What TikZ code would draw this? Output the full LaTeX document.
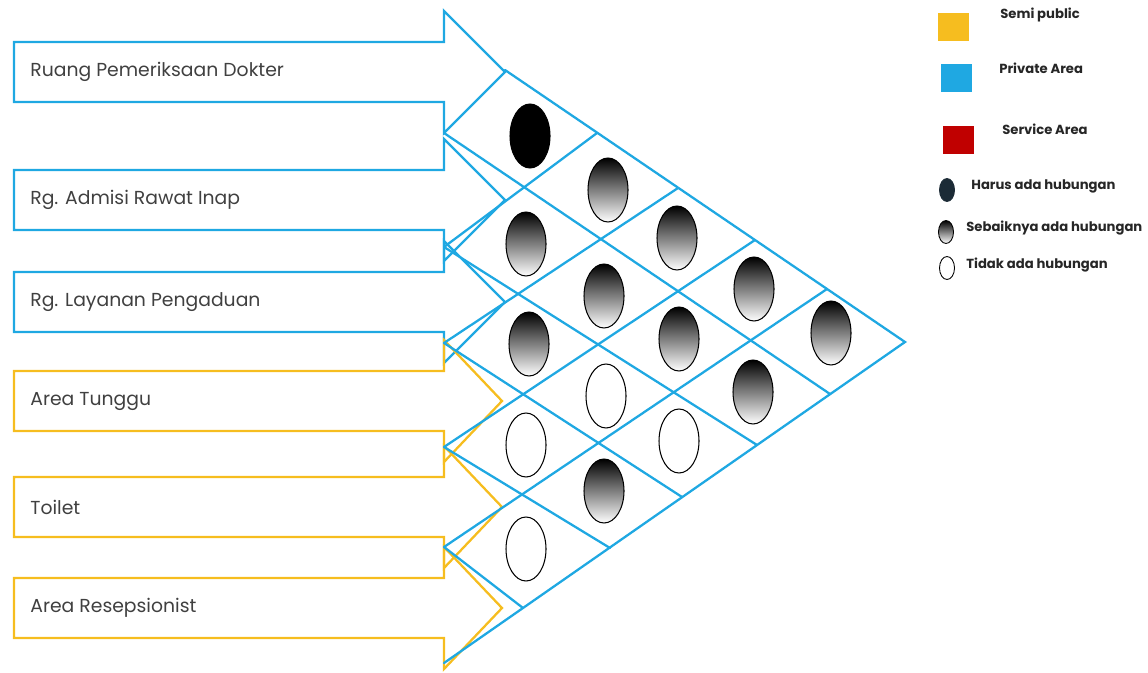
\documentclass[tikz,border=0pt]{standalone}
\usepackage{fontspec}
\setmainfont{Poppins}
\usetikzlibrary{shapes.geometric}
\definecolor{privblue}{HTML}{1FA8E2}
\definecolor{semiyel}{HTML}{F6BD1F}
\definecolor{servred}{HTML}{C00000}
\definecolor{darknavy}{HTML}{1C2B36}
\definecolor{labelgray}{HTML}{404040}
\tikzset{
  roombox/.style={draw=#1, line width=1.3pt, line join=miter},
  roomlabel/.style={anchor=west, inner sep=0pt, text=labelgray,
                    font=\fontsize{10.7}{13}\selectfont},
  gridline/.style={draw=privblue, line width=1.3pt, line cap=round},
  relcell/.style={ellipse, draw=black, line width=0.6pt, inner sep=0pt,
                  minimum width=0.8cm, minimum height=1.28cm},
  harus/.style={relcell, fill=black},
  sebaik/.style={relcell, top color=black, middle color=black!55, bottom color=white},
  tidak/.style={relcell, fill=white},
  keyell/.style={ellipse, draw=black, line width=0.5pt, inner sep=0pt,
                 minimum width=0.3cm, minimum height=0.46cm},
  swatch/.style={rectangle, fill=#1, inner sep=0pt, minimum width=0.62cm, minimum height=0.57cm},
  legendtext/.style={anchor=west, inner sep=0pt, text=black!85,
                     font=\bfseries\fontsize{7.5}{9}\selectfont},
}
\begin{document}
\begin{tikzpicture}[x=0.02cm, y=-0.02cm]
  \useasboundingbox (0,0) rectangle (1148,672);
  % ruang
  \foreach \n/\yc/\tip/\col/\txt in {1/72/505/privblue/Ruang Pemeriksaan Dokter,
      2/200/505/privblue/Rg. Admisi Rawat Inap,
      3/302/505/privblue/Rg. Layanan Pengaduan,
      4/401/502/semiyel/Area Tunggu,
      5/507/502/semiyel/Toilet,
      6/608/502/semiyel/Area Resepsionist}{
    \draw[roombox=\col] (14,\yc-30) -- (444,\yc-30) -- (444,\yc-61) -- (\tip,\yc)
      -- (444,\yc+61) -- (444,\yc+30) -- (14,\yc+30) -- cycle;
    \node[roomlabel] (r\n) at (30,\yc) {\txt};
  }
  % matriks hubungan
  \coordinate (T) at (505,70);
  \coordinate (R) at (905,342);
  \coordinate (B) at (444,663);
  \draw[gridline] (T) -- (R) -- (B);
  \foreach \i/\s/\ex/\ey in {1/133/830/394, 2/247/757/445, 3/343/682/497,
      4/447/610/548, 5/547/523/608}{
    \coordinate (a\i) at (444,\s);
    \coordinate (ae\i) at (\ex,\ey);
    \draw[gridline] (a\i) -- (ae\i);
  }
  \foreach \j/\s/\ex/\ey in {1/247/597/133, 2/343/678/188, 3/447/755/240, 4/547/827/289}{
    \coordinate (b\j) at (444,\s);
    \coordinate (be\j) at (\ex,\ey);
    \draw[gridline] (b\j) -- (be\j);
  }
  \foreach \n/\px/\py/\kind in {11/530/136/harus, 21/526/244/sebaik, 31/529/344/sebaik,
      41/526/445/tidak, 51/526/549/tidak, 12/608/190/sebaik, 22/604/296/sebaik,
      32/606/396/tidak, 42/604/491/sebaik, 13/677/238/sebaik, 23/679/339/sebaik,
      33/679/441/tidak, 14/754/289/sebaik, 24/753/392/sebaik, 15/831/333/sebaik}
    \node[\kind] (e\n) at (\px,\py) {};
  % keterangan
  \node[swatch=semiyel] (kSemi) at (953,27) {};
  \node[swatch=privblue] (kPriv) at (956,78) {};
  \node[swatch=servred] (kServ) at (958,140) {};
  \node[legendtext] (tSemi) at (1000,15) {Semi public};
  \node[legendtext] (tPriv) at (999,68) {Private Area};
  \node[legendtext] (tServ) at (1002,129) {Service Area};
  \node[keyell, fill=darknavy, draw=darknavy] (kHarus) at (947,190) {};
  \node[keyell, top color=black, bottom color=white] (kSeb) at (946,232) {};
  \node[keyell, fill=white] (kTid) at (947,268) {};
  \node[legendtext] (tHarus) at (971,186) {Harus ada hubungan};
  \node[legendtext] (tSeb) at (966,228) {Sebaiknya ada hubungan};
  \node[legendtext] (tTid) at (966,265) {Tidak ada hubungan};
\end{tikzpicture}
\end{document}
